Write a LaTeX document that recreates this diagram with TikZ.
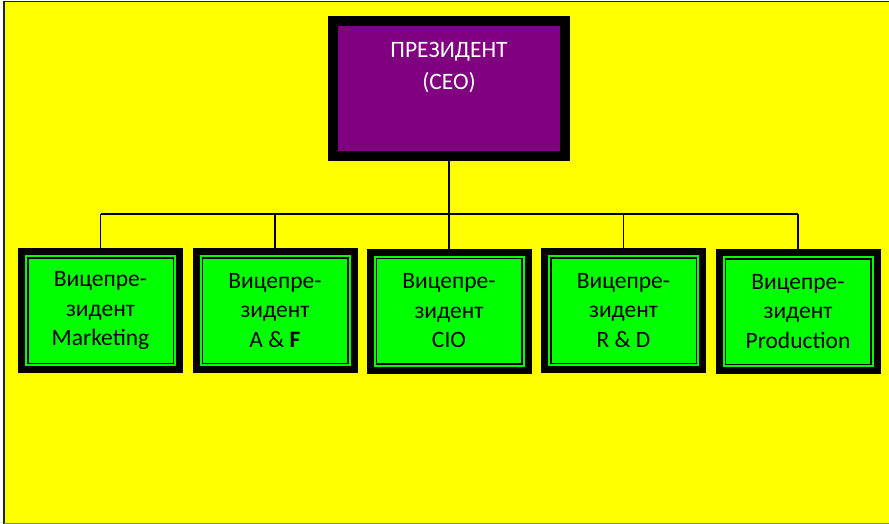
\documentclass[tikz,border=0pt]{standalone}
\usepackage{fontspec}
\setmainfont{Carlito}
\definecolor{bgyellow}{HTML}{FFFF00}
\definecolor{ceopurple}{HTML}{800080}
\definecolor{vpgreen}{HTML}{00FF00}
\definecolor{framegray}{HTML}{222222}
\tikzset{
  ceobox/.style={rectangle, draw=black, line width=10pt, fill=ceopurple,
    minimum width=232pt, minimum height=135pt, inner sep=0pt},
  ceotext/.style={text=white, align=center, font=\fontsize{23.5}{32.5}\selectfont, inner sep=0pt},
  vpbox/.style={rectangle, draw=black, line width=7pt, fill=vpgreen,
    minimum width=158pt, minimum height=118pt, inner sep=0pt,
    align=center, font=\fontsize{23.5}{29.5}\selectfont,
    path picture={\draw[black, line width=1.5pt]
      ([shift={(6.25pt,-6.25pt)}]path picture bounding box.north west) rectangle
      ([shift={(-6.25pt,6.25pt)}]path picture bounding box.south east);}},
  link/.style={draw=black, line width=1.4pt}
}
\begin{document}
\begin{tikzpicture}[x=1pt, y=-1pt]
  % page area and its frame
  \useasboundingbox (0,0) rectangle (889,524);
  \fill[white] (0,0) rectangle (889,524);
  \fill[bgyellow] (4,1.5) rectangle (889,523);
  \draw[framegray, line width=2.5pt] (4.2,0.8) -- (4.2,524);
  \draw[framegray, line width=1.3pt] (4,1.6) -- (889,1.6);
  \draw[gray, line width=1.3pt] (4,523.2) -- (889,523.2);

  % president
  \node[ceobox] (ceo) at (449,88.5) {};
  \node[ceotext, anchor=north] (ceolabel) at ([yshift=-26pt]ceo.north) {ПРЕЗИДЕНТ\\(CEO)};

  % vice presidents
  \node[vpbox] (vp1) at (100.5,310.5) {\raisebox{-3pt}{\parbox{150pt}{\centering Вицепре-\\зидент\\Marketing}}};
  \node[vpbox] (vp2) at (275,310.5) {\raisebox{-3pt}{\parbox{150pt}{\centering Вицепре-\\зидент\\A \& {\bfseries F}}}};
  \node[vpbox] (vp3) at (449,311) {\raisebox{-3pt}{\parbox{150pt}{\centering Вицепре-\\зидент\\CIO}}};
  \node[vpbox] (vp4) at (623.5,310.5) {\raisebox{-3pt}{\parbox{150pt}{\centering Вицепре-\\зидент\\R \& D}}};
  \node[vpbox] (vp5) at (798,311.5) {\raisebox{-3pt}{\parbox{150pt}{\centering Вицепре-\\зидент\\Production}}};

  % connectors
  \coordinate (bus) at (449,214);
  \draw[link] (ceo.south) -- (bus);
  \draw[link] (vp1.north |- bus) -- (vp5.north |- bus);
  \foreach \v in {vp1,vp2,vp3,vp4,vp5}
    \draw[link] (\v.north |- bus) -- (\v.north);
\end{tikzpicture}
\end{document}
